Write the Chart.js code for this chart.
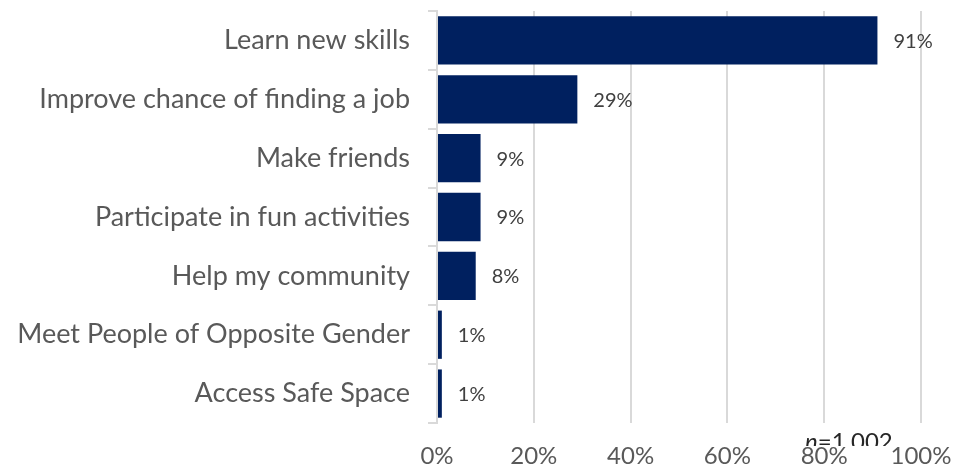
<!DOCTYPE html>
<html>
<head>
<meta charset="utf-8">
<script src="https://cdn.jsdelivr.net/npm/chart.js@4"></script>
<style>
  html, body { margin: 0; padding: 0; background: #fff; }
  #wrap { width: 958px; height: 471px; }
</style>
</head>
<body>
<div id="wrap"><canvas id="reasonsChart"></canvas></div>
<script>
// reasons for joining, share of respondents (%)
const reasons = [
    "Learn new skills",
    "Improve chance of finding a job",
    "Make friends",
    "Participate in fun activities",
    "Help my community",
    "Meet People of Opposite Gender",
    "Access Safe Space"
];
const shares = [91, 29, 9, 9, 8, 1, 1];
const xTicks = [0, 20, 40, 60, 80, 100];
const sampleSize = "1,002";

const FONT = "Lato, 'Open Sans', sans-serif";
const GREY = "#595959";

// value labels to the right of each bar
const valueLabels = {
    id: "valueLabels",
    afterDatasetsDraw(chart) {
        const ctx = chart.ctx;
        const meta = chart.getDatasetMeta(0);
        ctx.save();
        ctx.font = "20px " + FONT;
        ctx.fillStyle = "#404040";
        ctx.textAlign = "left";
        ctx.textBaseline = "middle";
        meta.data.forEach((bar, i) => {
            ctx.fillText(shares[i] + "%", bar.x + 16, bar.y + 1);
        });
        ctx.restore();
    }
};

// sample size note under the plot, partly hidden behind the tick labels
const sampleNote = {
    id: "sampleNote",
    afterDraw(chart) {
        const ctx = chart.ctx;
        ctx.save();
        ctx.beginPath();
        ctx.rect(0, 0, chart.width, 446);
        ctx.clip();
        ctx.fillStyle = "#262626";
        ctx.textBaseline = "alphabetic";
        ctx.font = "italic 24px " + FONT;
        const x0 = 805;
        ctx.fillText("n", x0, 450);
        const w = ctx.measureText("n").width;
        ctx.font = "24px " + FONT;
        ctx.fillText("=" + sampleSize, x0 + w, 450);
        ctx.restore();
    }
};

new Chart(document.getElementById("reasonsChart"), {
    type: "bar",
    data: {
        labels: reasons,
        datasets: [{
            data: shares,
            backgroundColor: "#00205f",
            borderWidth: 0,
            categoryPercentage: 0.82,
            barPercentage: 1
        }]
    },
    options: {
        indexAxis: "y",
        responsive: true,
        maintainAspectRatio: false,
        animation: false,
        layout: { padding: { top: 11, right: 37, left: 0, bottom: 0 } },
        plugins: { legend: { display: false }, tooltip: { enabled: false } },
        scales: {
            x: {
                min: 0,
                max: 100,
                afterBuildTicks(scale) {
                    scale.ticks = xTicks.map(v => ({ value: v }));
                },
                afterFit(scale) {
                    scale.height = 48;
                    scale.paddingLeft = 0;
                    scale.paddingRight = 0;
                },
                grid: { color: "#d9d9d9", lineWidth: 2, drawTicks: false },
                border: { display: false },
                ticks: {
                    padding: 19,
                    color: GREY,
                    font: { family: FONT, size: 24 },
                    callback: v => v + "%"
                }
            },
            y: {
                afterFit(scale) {
                    scale.width = 437;
                    scale.paddingTop = 0;
                    scale.paddingBottom = 0;
                },
                grid: {
                    offset: true,
                    drawOnChartArea: false,
                    color: "#d9d9d9",
                    lineWidth: 2,
                    tickLength: 9
                },
                border: { color: "#d9d9d9", width: 2 },
                ticks: {
                    padding: 18,
                    color: GREY,
                    font: { family: FONT, size: 27 }
                }
            }
        }
    },
    plugins: [valueLabels, sampleNote]
});
</script>
</body>
</html>
